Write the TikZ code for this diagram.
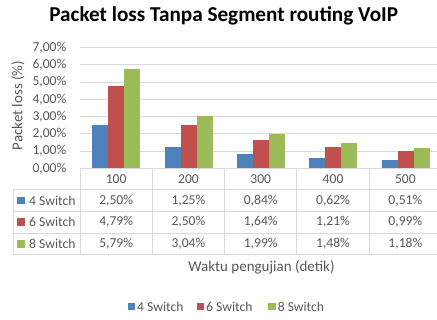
\documentclass[tikz,border=0pt]{standalone}
\usepackage{fontspec}
\setmainfont{Carlito}
\definecolor{txt}{HTML}{595959}
\definecolor{grid}{HTML}{D9D9D9}
\definecolor{sA}{HTML}{4F81BD}
\definecolor{sB}{HTML}{C0504D}
\definecolor{sC}{HTML}{9BBB59}
\begin{document}
\begin{tikzpicture}[x=1pt,y=-1pt,
  lbl/.style={text=txt,font=\fontsize{13.6}{13.6}\selectfont,inner sep=0pt},
  axtitle/.style={text=txt,font=\fontsize{15}{15}\selectfont,inner sep=0pt},
  tick/.style={lbl,anchor=east},
  cell/.style={lbl,anchor=center},
  gridline/.style={draw=grid,line width=0.9pt}]
\useasboundingbox (0,0) rectangle (437,320);
\fill[white] (0,0) rectangle (437,320);

% title
\node[anchor=base,inner sep=0pt,font=\fontsize{21.2}{21.2}\selectfont\bfseries] (title) at (223.7,21.7) {Packet loss Tanpa Segment routing VoIP};

% value axis: gridlines and tick labels
\def\yz{168.3}
\def\us{17.23}
\foreach \v in {1,...,7}{
  \draw[gridline] (80,\yz-\v*\us) -- (437,\yz-\v*\us);
}
\foreach \v in {0,...,7}{
  \node[tick] (tick\v) at (66.5,\yz-\v*\us) {\v,00\%};
}
\node[axtitle,rotate=90] (ytitle) at (18,105.5) {Packet loss (\%)};

% bars
\def\cw{72.3}
\def\bw{16.05}
\foreach \i/\a/\b/\c in {0/2.50/4.79/5.79,1/1.25/2.50/3.04,2/0.84/1.64/1.99,3/0.62/1.21/1.48,4/0.51/0.99/1.18}{
  \pgfmathsetmacro{\xs}{80+\i*\cw+12.3}
  \fill[sA] (\xs,\yz) rectangle (\xs+\bw,\yz-\a*\us);
  \fill[sB] (\xs+\bw,\yz) rectangle (\xs+2*\bw,\yz-\b*\us);
  \fill[sC] (\xs+2*\bw,\yz) rectangle (\xs+3*\bw,\yz-\c*\us);
}

% data table grid
\foreach \y in {189.7,211.3,233,254.7}{
  \draw[gridline] (13.3,\y) -- (437,\y);
}
\draw[gridline] (80,\yz) -- (437,\yz);
\draw[gridline] (13.3,189.7) -- (13.3,254.7);
\foreach \i in {0,...,4}{
  \draw[gridline] (80+\i*\cw,\yz) -- (80+\i*\cw,254.7);
}
% category labels
\foreach \i/\t in {0/100,1/200,2/300,3/400,4/500}{
  \node[cell] (cat\t) at (80+\i*\cw+\cw/2,179.3) {\t};
}
% series keys
\foreach \r/\yy/\col/\n in {1/200.5/sA/4,2/222.1/sB/6,3/243.8/sC/8}{
  \fill[\col] (17.3,\yy-3.8) rectangle (25,\yy+3.8);
  \node[lbl,anchor=west] (row\r) at (29,\yy) {\n\ Switch};
}
% table values
\def\rowvals#1#2#3#4#5#6#7{%
  \node[cell] (v#1a) at (80+0.5*\cw,#2) {#3};
  \node[cell] (v#1b) at (80+1.5*\cw,#2) {#4};
  \node[cell] (v#1c) at (80+2.5*\cw,#2) {#5};
  \node[cell] (v#1d) at (80+3.5*\cw,#2) {#6};
  \node[cell] (v#1e) at (80+4.5*\cw,#2) {#7};}
\rowvals{1}{200.5}{2,50\%}{1,25\%}{0,84\%}{0,62\%}{0,51\%}
\rowvals{2}{222.1}{4,79\%}{2,50\%}{1,64\%}{1,21\%}{0,99\%}
\rowvals{3}{243.8}{5,79\%}{3,04\%}{1,99\%}{1,48\%}{1,18\%}

% category axis title
\node[axtitle] (xtitle) at (261.5,267.5) {Waktu pengujian (detik)};

% legend
\foreach \k/\x/\col/\n in {a/127.7/sA/4,b/196.7/sB/6,c/268.3/sC/8}{
  \fill[\col] (\x,306.7-3.6) rectangle (\x+7.2,306.7+3.6);
  \node[lbl,anchor=west] (leg\k) at (\x+9.3,306.7) {\n\ Switch};
}
\end{tikzpicture}
\end{document}
